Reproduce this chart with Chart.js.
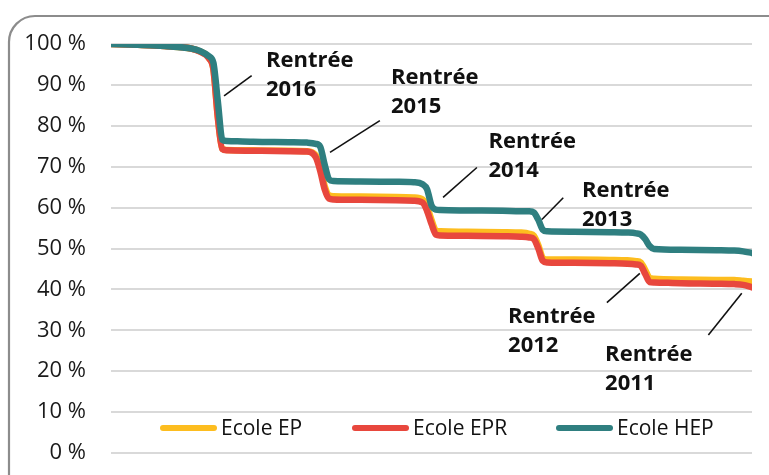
<!DOCTYPE html>
<html>
<head>
<meta charset="utf-8">
<script src="https://cdn.jsdelivr.net/npm/chart.js@4.4.1/dist/chart.umd.min.js"></script>
<style>
  html, body { margin: 0; padding: 0; background: #fff; }
  #wrap { width: 769px; height: 475px; }
</style>
</head>
<body>
<div id="wrap"><canvas id="myChart" width="769" height="475"></canvas></div>
<script>
// mois écoulés depuis la rentrée 2016 (x)
const mois = [0, 3, 6, 9, 10, 11, 11.5, 12, 12.5, 13, 16, 20, 22, 23, 23.5, 24, 24.5, 25,
  28, 32, 34, 35, 35.5, 36, 36.5, 37, 40, 44, 46, 47, 47.5, 48, 48.5, 49,
  52, 56, 58, 59, 59.5, 60, 60.5, 61, 64, 68, 70, 71, 72];

const ecoleEP = [100, 99.8, 99.5, 98.9, 98.2, 96.6, 93.9, 82.2, 74.4, 74.1, 74.0, 73.9, 73.8, 72.8, 70.0, 65.3, 63.0, 62.8,
  62.7, 62.6, 62.5, 62.0, 60.2, 57.0, 54.4, 54.2, 54.1, 54.0, 53.9, 53.6, 53.1, 50.8, 47.7, 47.3,
  47.3, 47.2, 47.1, 46.9, 46.6, 44.8, 42.8, 42.6, 42.4, 42.3, 42.3, 42.1, 41.9];

const ecoleEPR = [100, 99.8, 99.5, 98.9, 98.1, 96.5, 93.8, 82.0, 74.3, 74.0, 73.9, 73.8, 73.7, 72.3, 69.0, 64.5, 62.2, 62.0,
  61.9, 61.8, 61.7, 61.2, 59.2, 56.0, 53.4, 53.2, 53.1, 53.0, 52.9, 52.7, 52.3, 50.0, 47.0, 46.6,
  46.5, 46.4, 46.3, 46.1, 45.8, 43.8, 41.8, 41.7, 41.5, 41.4, 41.3, 41.1, 40.5];

const ecoleHEP = [100, 99.8, 99.5, 98.9, 98.3, 97.0, 95.4, 86.0, 76.6, 76.3, 76.1, 76.0, 75.9, 75.6, 74.9, 70.5, 66.9, 66.5,
  66.4, 66.3, 66.2, 65.7, 64.5, 60.5, 59.5, 59.4, 59.3, 59.2, 59.1, 59.1, 58.8, 57.0, 54.6, 54.2,
  54.1, 54.0, 53.9, 53.7, 53.4, 52.3, 50.6, 49.9, 49.7, 49.6, 49.5, 49.3, 48.9];

const series = ['Ecole EP', 'Ecole EPR', 'Ecole HEP'];
const couleurs = ['#FDBD1F', '#E8473D', '#2F7F80'];
const yTicks = [0, 10, 20, 30, 40, 50, 60, 70, 80, 90, 100];

// annotations: libellé, position du texte, trait de rappel (en mois / %)
const annoLabels = ['2016', '2015', '2014', '2013', '2012', '2011'];
const annoText = [[17.4, 94.3], [31.45, 90.3], [42.4, 74.5], [52.9, 62.7], [44.6, 31.8], [55.5, 22.4]];
const annoLine = [
  [[12.7, 87.3], [15.8, 92.25]],
  [[24.6, 73.5], [30.2, 81.25]],
  [[37.3, 62.5], [41.1, 69.8]],
  [[48.4, 57.1], [50.8, 62.4]],
  [[55.7, 36.75], [59.4, 43.9]],
  [[67.1, 28.85], [70.85, 39.05]]
];

function toPoints(vals) {
  return mois.map((m, i) => ({ x: m, y: vals[i] }));
}

const cadre = {
  id: 'cadre',
  beforeDraw(chart) {
    const ctx = chart.ctx;
    ctx.save();
    ctx.strokeStyle = '#8c8c8c';
    ctx.lineWidth = 2.2;
    ctx.beginPath();
    ctx.roundRect(9, 16, 820, 520, 26);
    ctx.stroke();
    ctx.restore();
  }
};

const annotations = {
  id: 'annotations',
  afterDatasetsDraw(chart) {
    const ctx = chart.ctx;
    const x = chart.scales.x, y = chart.scales.y;
    ctx.save();
    ctx.strokeStyle = '#111';
    ctx.lineWidth = 1.6;
    annoLine.forEach(l => {
      ctx.beginPath();
      ctx.moveTo(x.getPixelForValue(l[0][0]), y.getPixelForValue(l[0][1]));
      ctx.lineTo(x.getPixelForValue(l[1][0]), y.getPixelForValue(l[1][1]));
      ctx.stroke();
    });
    ctx.fillStyle = '#111';
    ctx.font = 'bold 22px "Open Sans"';
    ctx.textBaseline = 'alphabetic';
    annoLabels.forEach((lab, i) => {
      const px = x.getPixelForValue(annoText[i][0]);
      const py = y.getPixelForValue(annoText[i][1]);
      ctx.fillText('Rentrée', px, py);
      ctx.fillText(lab, px, py + 29);
    });

    // légende dans la zone du graphique
    const area = chart.chartArea;
    const offsets = [49, 241, 445];
    const ly = area.bottom - 25;
    ctx.font = '21px "Open Sans"';
    ctx.textBaseline = 'middle';
    ctx.lineCap = 'round';
    ctx.lineWidth = 6;
    chart.data.datasets.forEach((ds, i) => {
      const lx = area.left + offsets[i];
      ctx.strokeStyle = ds.borderColor;
      ctx.beginPath();
      ctx.moveTo(lx + 3, ly);
      ctx.lineTo(lx + 54, ly);
      ctx.stroke();
      ctx.fillStyle = '#111';
      ctx.fillText(ds.label, lx + 61, ly + 1);
    });
    ctx.restore();
  }
};

const ctx = document.getElementById('myChart').getContext('2d');
const myChart = new Chart(ctx, {
  type: 'line',
  data: {
    datasets: [
      { label: series[0], data: toPoints(ecoleEP), borderColor: couleurs[0], order: 2 },
      { label: series[1], data: toPoints(ecoleEPR), borderColor: couleurs[1], order: 1 },
      { label: series[2], data: toPoints(ecoleHEP), borderColor: couleurs[2], order: 0 }
    ]
  },
  options: {
    responsive: false,
    animation: false,
    devicePixelRatio: 1,
    layout: { padding: { top: 44, right: 17, bottom: 22, left: 0 } },
    elements: {
      line: { borderWidth: 6.5, cubicInterpolationMode: 'monotone', borderCapStyle: 'round', borderJoinStyle: 'round', fill: false },
      point: { radius: 0 }
    },
    plugins: {
      legend: { display: false },
      tooltip: { enabled: false }
    },
    scales: {
      x: { type: 'linear', min: 0, max: 72, display: false },
      y: {
        min: 0,
        max: 100,
        afterFit(scale) {
          scale.width = 111;
          scale.paddingTop = 0;
          scale.paddingBottom = 0;
        },
        afterBuildTicks(scale) { scale.ticks = yTicks.map(v => ({ value: v })); },
        ticks: {
          padding: 25,
          color: '#1a1a1a',
          font: { family: '"Open Sans"', size: 22 },
          callback: v => v + ' %'
        },
        grid: { color: '#d9d9d9', lineWidth: 2, drawTicks: false },
        border: { display: false }
      }
    }
  },
  plugins: [cadre, annotations]
});
</script>
</body>
</html>
